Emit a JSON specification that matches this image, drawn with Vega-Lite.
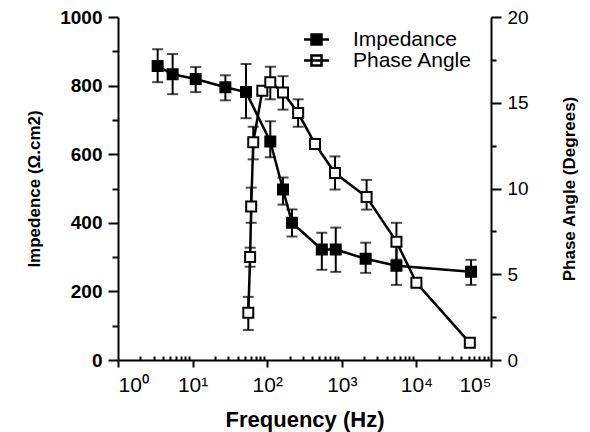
{
  "$schema": "https://vega.github.io/schema/vega-lite/v6.json",
  "width": 373,
  "height": 343,
  "padding": {"left": 25, "top": 8, "right": 5, "bottom": 5},
  "background": "white",
  "config": {
    "view": {"stroke": null},
    "axis": {
      "grid": false,
      "domainColor": "black",
      "domainWidth": 2,
      "tickColor": "black",
      "tickWidth": 2,
      "labelColor": "black",
      "titleColor": "black",
      "labelFont": "Liberation Sans",
      "titleFont": "Liberation Sans",
      "labelFontSize": 19,
      "titleFontSize": 17,
      "titleFontWeight": "bold"
    },
    "legend": {"labelFont": "Liberation Sans", "labelFontSize": 21, "labelColor": "black"}
  },
  "datasets": {
    "imp": [
      {"f": 3.4, "v": 857, "lo": 810, "hi": 906},
      {"f": 5.4, "v": 833, "lo": 775, "hi": 892},
      {"f": 11, "v": 819, "lo": 781, "hi": 854},
      {"f": 27.5, "v": 795, "lo": 757, "hi": 830},
      {"f": 52, "v": 781, "lo": 705, "hi": 863},
      {"f": 110, "v": 637, "lo": 591, "hi": 696},
      {"f": 163, "v": 497, "lo": 453, "hi": 532},
      {"f": 215, "v": 400, "lo": 360, "hi": 439},
      {"f": 540, "v": 322, "lo": 263, "hi": 371},
      {"f": 830, "v": 322, "lo": 257, "hi": 386},
      {"f": 2090, "v": 295, "lo": 254, "hi": 342},
      {"f": 5400, "v": 275, "lo": 219, "hi": 345},
      {"f": 54000, "v": 257, "lo": 219, "hi": 292}
    ],
    "phase": [
      {"f": 55.8, "v": 2.75, "lo": 1.75, "hi": 3.68},
      {"f": 59, "v": 6.0, "lo": 5.44, "hi": 6.55},
      {"f": 61, "v": 8.95, "lo": 8.0, "hi": 10.05},
      {"f": 65, "v": 12.7, "lo": 11.7, "hi": 13.6},
      {"f": 86, "v": 15.7, "lo": null, "hi": null},
      {"f": 110, "v": 16.2, "lo": 15.2, "hi": 17.1},
      {"f": 163, "v": 15.6, "lo": 14.6, "hi": 16.55},
      {"f": 260, "v": 14.4, "lo": 13.6, "hi": 15.2},
      {"f": 437, "v": 12.6, "lo": null, "hi": null},
      {"f": 810, "v": 10.9, "lo": 9.94, "hi": 11.87},
      {"f": 2150, "v": 9.5, "lo": 8.77, "hi": 10.5},
      {"f": 5400, "v": 6.9, "lo": 5.85, "hi": 8.0},
      {"f": 10000, "v": 4.5, "lo": null, "hi": null},
      {"f": 52000, "v": 1.0, "lo": null, "hi": null}
    ]
  },
  "layer": [
    {
      "data": {"name": "imp"},
      "encoding": {
        "x": {
          "field": "f", "type": "quantitative",
          "scale": {"type": "log", "domain": [1, 100000]},
          "axis": {
            "orient": "bottom",
            "values": [1, 10, 100, 1000, 10000, 100000],
            "labelExpr": "'10' + ['⁰','¹','²','³','⁴','⁵'][round(log(datum.value)/LN10)]",
            "labelFontSize": 21,
            "tickSize": 7,
            "labelPadding": 7,
            "title": "Frequency (Hz)",
            "titleFontSize": 22,
            "titlePadding": 14
          }
        },
        "y": {
          "field": "v", "type": "quantitative",
          "scale": {"domain": [0, 1000]},
          "axis": {
            "orient": "left",
            "values": [0, 100, 200, 300, 400, 500, 600, 700, 800, 900, 1000],
            "format": "d",
            "labelExpr": "datum.value % 200 == 0 ? datum.label : ''",
            "labelFontWeight": "bold",
            "tickSize": {"condition": {"test": "datum.value % 200 == 0", "value": 10}, "value": 6},
            "labelPadding": 6,
            "title": "Impedence (Ω.cm2)",
            "titlePadding": 16
          }
        }
      },
      "layer": [
        {"mark": {"type": "line", "color": "black", "strokeWidth": 2.5}},
        {
          "mark": {"type": "rule", "color": "black", "strokeWidth": 2},
          "encoding": {"y": {"field": "lo", "type": "quantitative", "title": "Impedence (Ω.cm2)"}, "y2": {"field": "hi"}}
        },
        {
          "mark": {"type": "tick", "color": "black", "orient": "horizontal", "size": 11, "thickness": 2},
          "encoding": {"y": {"field": "lo", "type": "quantitative", "title": "Impedence (Ω.cm2)"}}
        },
        {
          "mark": {"type": "tick", "color": "black", "orient": "horizontal", "size": 11, "thickness": 2},
          "encoding": {"y": {"field": "hi", "type": "quantitative", "title": "Impedence (Ω.cm2)"}}
        },
        {
          "mark": {"type": "point", "shape": "square", "size": 100, "stroke": "black", "strokeWidth": 2, "opacity": 1},
          "encoding": {
            "fill": {
              "datum": "Impedance",
              "scale": {"domain": ["Impedance", "Phase Angle"], "range": ["black", "white"]},
              "legend": {
                "title": null,
                "orient": "none",
                "legendX": 188,
                "legendY": 12,
                "symbolType": "M-2.5,0H2.5M-1,-1H1V1H-1Z",
                "symbolSize": 100,
                "symbolStrokeColor": "black",
                "symbolStrokeWidth": 2.5,
                "symbolOpacity": 1,
                "labelOffset": 26,
                "rowPadding": -3
              }
            }
          }
        }
      ]
    },
    {
      "data": {"name": "phase"},
      "encoding": {
        "x": {"field": "f", "type": "quantitative", "scale": {"type": "log", "domain": [1, 100000]}, "axis": null},
        "y": {
          "field": "v", "type": "quantitative",
          "scale": {"domain": [0, 20]},
          "axis": {
            "orient": "right",
            "values": [0, 2.5, 5, 7.5, 10, 12.5, 15, 17.5, 20],
            "labelExpr": "datum.value % 5 == 0 ? datum.label : ''",
            "tickSize": {"condition": {"test": "datum.value % 5 == 0", "value": 10}, "value": 5},
            "labelPadding": 6,
            "title": "Phase Angle (Degrees)",
            "titleAngle": 270,
            "titleBaseline": "top",
            "titlePadding": 33
          }
        }
      },
      "layer": [
        {"mark": {"type": "line", "color": "black", "strokeWidth": 2.5}},
        {
          "transform": [{"filter": "datum.lo != null"}],
          "mark": {"type": "rule", "color": "black", "strokeWidth": 2},
          "encoding": {"y": {"field": "lo", "type": "quantitative", "title": "Phase Angle (Degrees)"}, "y2": {"field": "hi"}}
        },
        {
          "transform": [{"filter": "datum.lo != null"}],
          "mark": {"type": "tick", "color": "black", "orient": "horizontal", "size": 11, "thickness": 2},
          "encoding": {"y": {"field": "lo", "type": "quantitative", "title": "Phase Angle (Degrees)"}}
        },
        {
          "transform": [{"filter": "datum.lo != null"}],
          "mark": {"type": "tick", "color": "black", "orient": "horizontal", "size": 11, "thickness": 2},
          "encoding": {"y": {"field": "hi", "type": "quantitative", "title": "Phase Angle (Degrees)"}}
        },
        {
          "mark": {"type": "point", "shape": "square", "size": 100, "stroke": "black", "strokeWidth": 2, "opacity": 1},
          "encoding": {"fill": {"datum": "Phase Angle"}}
        }
      ]
    },
    {
      "data": {"name": "imp"},
      "mark": {"type": "point", "opacity": 0},
      "encoding": {
        "x": {
          "field": "f", "type": "quantitative",
          "scale": {"type": "log", "domain": [1, 100000]},
          "axis": {
            "orient": "bottom",
            "values": [2,3,4,5,6,7,8,9,20,30,40,50,60,70,80,90,200,300,400,500,600,700,800,900,2000,3000,4000,5000,6000,7000,8000,9000,20000,30000,40000,50000,60000,70000,80000,90000],
            "labels": false,
            "domain": false,
            "tickSize": -4,
            "title": null
          }
        }
      }
    }
  ],
  "resolve": {"scale": {"y": "independent"}, "axis": {"x": "independent"}}
}
